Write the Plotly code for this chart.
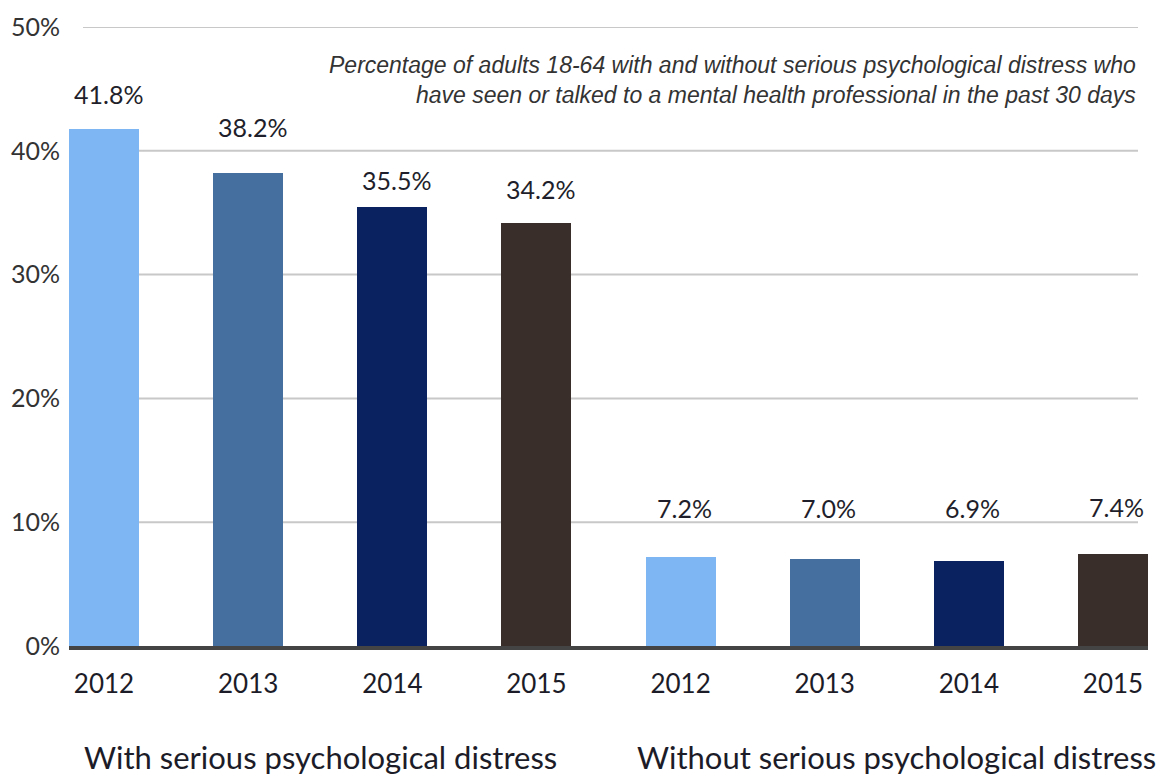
import plotly.graph_objects as go

# Share of adults 18-64 who saw/talked to a mental health professional (past 30 days)
years = ["2012", "2013", "2014", "2015"]
with_distress = [41.8, 38.2, 35.5, 34.2]
without_distress = [7.2, 7.0, 6.9, 7.4]
year_colors = ["#7EB6F4", "#456F9E", "#0A2260", "#3A2E2B"]
group_names = ["With serious psychological distress", "Without serious psychological distress"]
y_ticks = [0, 10, 20, 30, 40, 50]
y_tick_text = ["0%", "10%", "20%", "30%", "40%", "50%"]
title_text = ("Percentage of adults 18-64 with and without serious psychological distress who<br>"
              "have seen or talked to a mental health professional in the past 30 days")

values = with_distress + without_distress
positions = list(range(len(values)))
tick_labels = years + years
colors = year_colors + year_colors

# vertical offset (px) of each value label above its bar top
label_lift = [35, 46, 27, 34, 49, 51, 53, 47]

W, H = 1159, 776
L, R, T, B = 69, 11, 25, 130
PW, PH = W - L - R, H - T - B

label_font = dict(family="Lato, 'Noto Sans', sans-serif", size=25, color="#1F1F2B")

fig = go.Figure()
fig.add_trace(go.Bar(
    x=positions, y=values,
    marker=dict(color=colors, line=dict(width=0)),
    width=0.486,
    hoverinfo="skip",
    showlegend=False,
))

# value labels above each bar
for i, v in enumerate(values):
    fig.add_annotation(
        x=positions[i], y=v, xref="x", yref="y",
        text=f"{v:.1f}%", showarrow=False,
        yanchor="middle", yshift=label_lift[i], xshift=4,
        font=label_font,
    )

# group captions under the year labels
for g, name in enumerate(group_names):
    fig.add_annotation(
        x=1.5 + 4 * g, y=-0.179, xref="x", yref="paper",
        text=name, showarrow=False, yanchor="middle",
        font=dict(family="Lato, 'Noto Sans', sans-serif", size=31, color="#1C1C28"),
    )

# subtitle, right aligned
fig.add_annotation(
    x=(1138 - L) / PW, y=(646 - 78) / PH, xref="paper", yref="paper",
    text=title_text, showarrow=False, xanchor="right", yanchor="middle", align="right",
    font=dict(family="'Liberation Sans', Arial, sans-serif", size=23, color="#333333", style="italic"),
)

# horizontal grid lines
for t in y_ticks[1:]:
    fig.add_shape(
        type="line", xref="paper", yref="y",
        x0=(83 - L) / PW, x1=(1138 - L) / PW, y0=t, y1=t,
        line=dict(color="#C8C8C8", width=2), layer="below",
    )

fig.update_layout(
    width=W, height=H,
    margin=dict(l=L, r=R, t=T, b=B),
    paper_bgcolor="white", plot_bgcolor="white",
    bargap=0,
    xaxis=dict(
        range=[-0.243, 7.243],
        tickvals=positions, ticktext=tick_labels,
        showgrid=False, zeroline=False,
        showline=True, linecolor="#444444", linewidth=4,
        ticks="", ticklabelstandoff=12,
        tickfont=dict(family="Lato, 'Noto Sans', sans-serif", size=26, color="#1C1C28"),
    ),
    yaxis=dict(
        range=[0, 50],
        tickvals=y_ticks, ticktext=y_tick_text,
        showgrid=False, zeroline=False, showline=False,
        ticks="", ticklabelstandoff=8,
        tickfont=dict(family="Lato, 'Noto Sans', sans-serif", size=25, color="#333333"),
    ),
)

fig.write_html("out.html")
